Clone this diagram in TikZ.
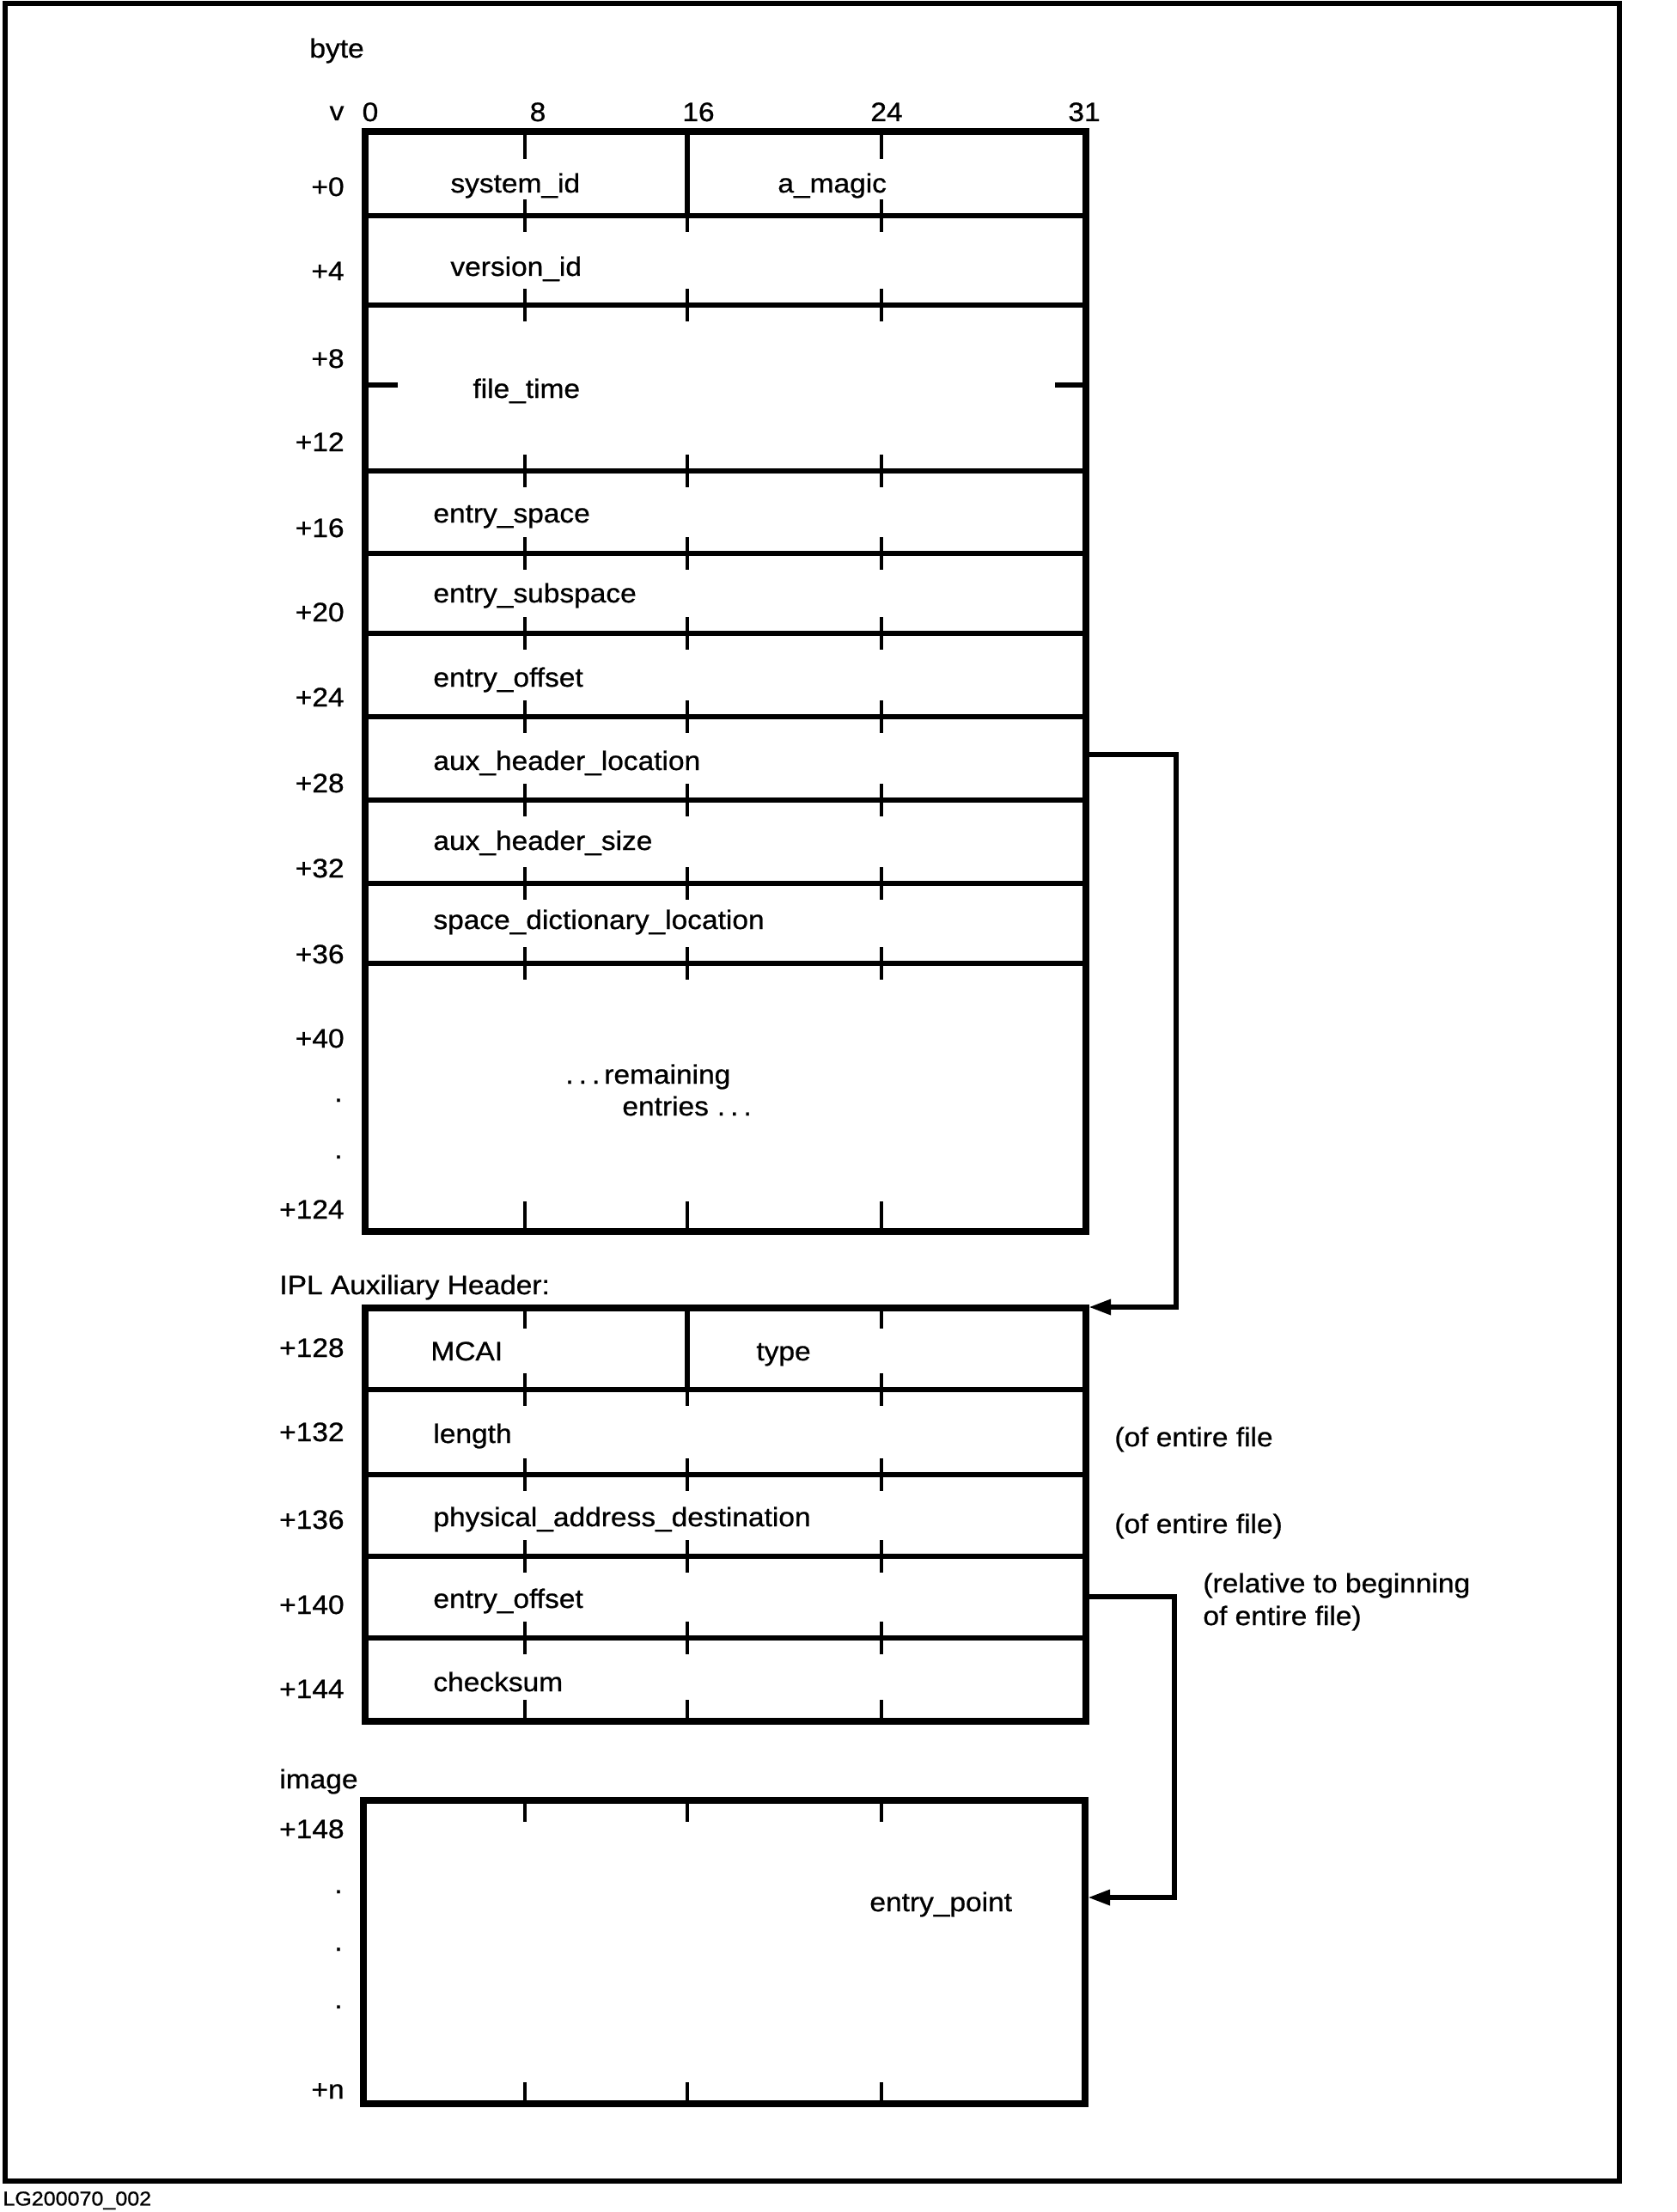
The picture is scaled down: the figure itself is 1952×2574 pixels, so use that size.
\documentclass[tikz,border=0pt]{standalone}
\usepackage{fontspec}
\setmainfont{Liberation Sans}[FakeStretch=1.08,FakeBold=0.8]
\usetikzlibrary{arrows.meta}
\newcommand\fieldfont{\fontsize{15.5}{19}\selectfont}
\newcommand\smallfont{\fontsize{11.6}{14}\selectfont}
\begin{document}
\begin{tikzpicture}[x=0.5pt,y=-0.5pt,
  txt/.style={font=\fieldfont, inner sep=0pt, text height=11pt, text depth=0pt},
  lbl/.style={txt, anchor=east},
  fld/.style={txt, anchor=west},
  boxline/.style={line width=4pt},
  rowline/.style={line width=3pt},
  tickline/.style={line width=2.4pt},
  conn/.style={line width=3pt, line join=miter},
  tip/.style={-{Triangle[length=13pt,width=8.5pt]}}
]
\useasboundingbox (0,0) rectangle (1952,2574);
% outer frame
\draw[line width=3pt] (6,4) rectangle (1885,2538);
\node[font=\smallfont, inner sep=0pt, text height=8.4pt, text depth=0pt, anchor=west] (fig) at (3,2558) {LG200070\_002};

% ---------- header box ----------
\node[fld] (byte) at (360,56) {byte};
\node[txt] (hv) at (392,129) {v};
\node[txt] (h0) at (431,130) {0};
\node[txt] (h8) at (626,130) {8};
\node[txt] (h16) at (813,130) {16};
\node[txt] (h24) at (1032,130) {24};
\node[txt] (h31) at (1262,130) {31};

\draw[boxline] (425,153) rectangle (1264,1433);
\foreach \y in {251,355,548,644,737,834,931,1028,1121}
  \draw[rowline] (425,\y) -- (1264,\y);
\foreach \y in {251,355,548,644,737,834,931,1028,1121}
  \foreach \x in {611,800,1026}
    \draw[tickline] (\x,\y-19) -- (\x,\y+19);
\foreach \x in {611,1026} \draw[tickline] (\x,153) -- (\x,185);
\draw[rowline] (800,153) -- (800,251);
\draw[rowline] (425,448) -- (463,448);
\draw[rowline] (1228,448) -- (1264,448);
\foreach \x in {611,800,1026} \draw[tickline] (\x,1398) -- (\x,1433);

\node[lbl] (r0) at (401,217) {+0};
\node[lbl] (r4) at (401,315) {+4};
\node[lbl] (r8) at (401,417) {+8};
\node[lbl] (r12) at (401,514) {+12};
\node[lbl] (r16) at (401,614) {+16};
\node[lbl] (r20) at (401,712) {+20};
\node[lbl] (r24) at (401,811) {+24};
\node[lbl] (r28) at (401,911) {+28};
\node[lbl] (r32) at (401,1010) {+32};
\node[lbl] (r36) at (401,1110) {+36};
\node[lbl] (r40) at (401,1208) {+40};
\node[lbl] (rd1) at (399,1271) {.};
\node[lbl] (rd2) at (399,1337) {.};
\node[lbl] (r124) at (401,1407) {+124};

\node[fld] (sysid) at (524,213) {system\_id};
\node[fld] (amagic) at (905,213) {a\_magic};
\node[fld] (verid) at (524,310) {version\_id};
\node[fld] (ftime) at (550,452) {file\_time};
\node[fld] (espace) at (504,597) {entry\_space};
\node[fld] (esub) at (504,690) {entry\_subspace};
\node[fld] (eoff) at (504,788) {entry\_offset};
\node[fld] (auxloc) at (504,885) {aux\_header\_location};
\node[fld] (auxsize) at (504,978) {aux\_header\_size};
\node[fld] (sdl) at (504,1070) {space\_dictionary\_location};
\node[fld] (rem1) at (658,1250) {.\kern3pt.\kern3pt.\kern2.5pt remaining};
\node[fld] (rem2) at (724,1287) {entries\kern5pt.\kern3pt.\kern3pt.};

% ---------- IPL auxiliary header ----------
\node[fld] (ipl) at (325,1495) {IPL Auxiliary Header:};
\draw[boxline] (425,1522) rectangle (1264,2003);
\foreach \y in {1617,1716,1811,1906}
  \draw[rowline] (425,\y) -- (1264,\y);
\foreach \y in {1617,1716,1811,1906}
  \foreach \x in {611,800,1026}
    \draw[tickline] (\x,\y-19) -- (\x,\y+19);
\foreach \x in {611,1026} \draw[tickline] (\x,1522) -- (\x,1546);
\draw[rowline] (800,1522) -- (800,1617);
\foreach \x in {611,800,1026} \draw[tickline] (\x,1978) -- (\x,2003);

\node[lbl] (r128) at (401,1568) {+128};
\node[lbl] (r132) at (401,1666) {+132};
\node[lbl] (r136) at (401,1768) {+136};
\node[lbl] (r140) at (401,1867) {+140};
\node[lbl] (r144) at (401,1965) {+144};

\node[fld] (mcai) at (501,1572) {MCAI};
\node[fld] (type) at (880,1572) {type};
\node[fld] (len) at (504,1668) {length};
\node[fld] (pad) at (504,1765) {physical\_address\_destination};
\node[fld] (eoff2) at (504,1860) {entry\_offset};
\node[fld] (csum) at (504,1957) {checksum};

\node[fld] (n1) at (1297,1672) {(of entire file};
\node[fld] (n2) at (1297,1773) {(of entire file)};
\node[fld] (n3) at (1400,1842) {(relative to beginning};
\node[fld] (n4) at (1400,1880) {of entire file)};

% ---------- image ----------
\node[fld] (img) at (325,2070) {image};
\draw[boxline] (423,2095) rectangle (1263,2448);
\foreach \x in {611,800,1026} \draw[tickline] (\x,2095) -- (\x,2120);
\foreach \x in {611,800,1026} \draw[tickline] (\x,2423) -- (\x,2448);
\node[lbl] (r148) at (401,2128) {+148};
\node[lbl] (id1) at (399,2192) {.};
\node[lbl] (id2) at (399,2259) {.};
\node[lbl] (id3) at (399,2326) {.};
\node[lbl] (rn) at (401,2431) {+n};
\node[fld] (ept) at (1012,2213) {entry\_point};

% ---------- connectors ----------
\coordinate (c1s) at (1266,878);
\coordinate (c1a) at (1369,878);
\coordinate (c1b) at (1369,1521);
\coordinate (c1e) at (1267,1521);
\draw[conn,tip] (c1s) -- (c1a) -- (c1b) -- (c1e);

\coordinate (c2s) at (1266,1858);
\coordinate (c2a) at (1367,1858);
\coordinate (c2b) at (1367,2208);
\coordinate (c2e) at (1266,2208);
\draw[conn,tip] (c2s) -- (c2a) -- (c2b) -- (c2e);
\end{tikzpicture}
\end{document}
